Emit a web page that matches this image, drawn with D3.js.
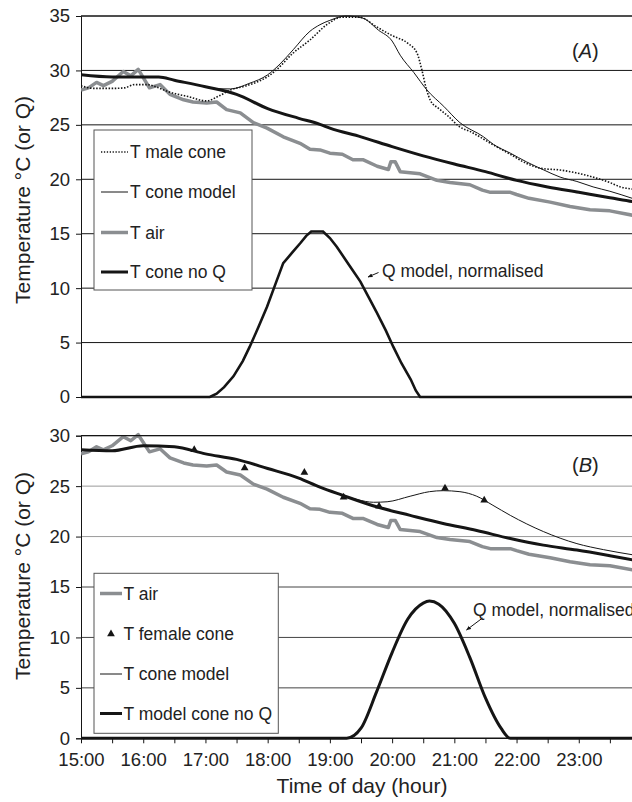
<!DOCTYPE html>
<html>
<head>
<meta charset="utf-8">
<script src="https://cdn.jsdelivr.net/npm/d3@7"></script>
<style>
  body { margin: 0; background: #fff; }
  svg text { font-family: "Liberation Sans", Arial, sans-serif; fill: #222; }
</style>
</head>
<body>
<svg id="chart" width="632" height="802"></svg>
<script>
// x axis: hours of the day
const halfHourTicks = [15, 15.5, 16, 16.5, 17, 17.5, 18, 18.5, 19, 19.5, 20, 20.5, 21, 21.5, 22, 22.5, 23, 23.5];
const hourLabels = ["15:00", "16:00", "17:00", "18:00", "19:00", "20:00", "21:00", "22:00", "23:00"];

// T air (same record in both panels)
const tAir = [
    [15.00, 28.2], [15.12, 28.4], [15.25, 28.9], [15.36, 28.6], [15.50, 29.0], [15.68, 29.9],
    [15.80, 29.5], [15.92, 30.1], [16.10, 28.4], [16.27, 28.7], [16.43, 27.8], [16.65, 27.3],
    [16.80, 27.1], [17.02, 27.0], [17.18, 27.1], [17.34, 26.4], [17.56, 26.1], [17.77, 25.2],
    [17.99, 24.7], [18.25, 23.9], [18.52, 23.3], [18.68, 22.75], [18.84, 22.7], [19.00, 22.4],
    [19.20, 22.3], [19.37, 21.8], [19.53, 21.8], [19.76, 21.2], [19.94, 20.9], [19.98, 21.6],
    [20.05, 21.6], [20.13, 20.7], [20.45, 20.5], [20.72, 19.9], [20.93, 19.7], [21.25, 19.5],
    [21.45, 19.0], [21.58, 18.8], [21.90, 18.8], [22.00, 18.6], [22.20, 18.25], [22.54, 17.9],
    [22.86, 17.5], [23.18, 17.2], [23.50, 17.1], [23.86, 16.7]
];

// panel A
const tConeNoQA = [
    [15.0, 29.6], [15.5, 29.4], [16.0, 29.4], [16.25, 29.4], [16.5, 29.1], [17.0, 28.5],
    [17.5, 27.8], [18.0, 26.5], [18.5, 25.6], [18.84, 25.05], [19.0, 24.7], [19.5, 23.9],
    [20.0, 23.0], [20.5, 22.15], [21.0, 21.4], [21.5, 20.7], [22.0, 19.9], [22.5, 19.3],
    [23.0, 18.8], [23.5, 18.3], [23.86, 17.95], [24.0, 17.8]
];
const tConeModelA = [
    [15.0, 29.6], [15.5, 29.4], [16.0, 29.4], [16.25, 29.4], [16.5, 29.1], [17.0, 28.5],
    [17.1, 28.35], [17.4, 28.3], [17.7, 28.8], [18.0, 29.6], [18.2, 30.6], [18.41, 31.9],
    [18.68, 33.6], [18.84, 34.2], [19.0, 34.6], [19.26, 35.0], [19.53, 34.8], [19.78, 33.7],
    [20.0, 32.7], [20.13, 31.4], [20.35, 29.8], [20.56, 28.2], [20.83, 26.7], [21.09, 25.2],
    [21.47, 23.9], [21.63, 23.2], [21.9, 22.4], [22.16, 21.6], [22.44, 20.85], [22.7, 20.2],
    [22.97, 19.8], [23.23, 19.3], [23.5, 18.9], [23.86, 18.25]
];
const tMaleCone = [
    [15.0, 28.6], [15.2, 28.35], [15.5, 28.35], [15.7, 28.4], [15.86, 28.7], [16.06, 28.7],
    [16.2, 28.5], [16.4, 28.05], [16.72, 27.6], [17.02, 27.2], [17.2, 27.6], [17.4, 28.2],
    [17.66, 28.6], [17.99, 29.4], [18.13, 30.0], [18.41, 31.6], [18.68, 32.8], [18.95, 34.2],
    [19.2, 34.9], [19.47, 34.9], [19.75, 34.0], [20.0, 33.2], [20.25, 32.5], [20.4, 31.6],
    [20.48, 30.0], [20.55, 28.3], [20.62, 27.2], [20.75, 26.5], [20.9, 25.8], [21.09, 24.8],
    [21.25, 24.4], [21.63, 23.15], [21.9, 22.3], [22.16, 21.45], [22.4, 21.0], [22.7, 20.85],
    [22.95, 20.6], [23.23, 20.2], [23.5, 19.7], [23.67, 19.3], [23.86, 19.1]
];
const qModelA = [
    [15.0, 0], [17.07, 0], [17.18, 0.3], [17.3, 0.9], [17.45, 1.9], [17.6, 3.3], [17.71, 4.6],
    [17.85, 6.4], [17.99, 8.3], [18.12, 10.3], [18.25, 12.3], [18.4, 13.3], [18.52, 14.1],
    [18.62, 14.8], [18.7, 15.2], [18.89, 15.2], [19.0, 14.6], [19.11, 13.8], [19.3, 12.2],
    [19.49, 10.6], [19.62, 9.2], [19.75, 7.8], [19.9, 6.1], [20.02, 4.6], [20.15, 3.1],
    [20.3, 1.6], [20.38, 0.6], [20.45, 0], [24.0, 0]
];

// panel B
const tConeNoQB = [
    [15.0, 28.6], [15.5, 28.5], [16.0, 29.0], [16.5, 28.9], [17.0, 28.2], [17.5, 27.65],
    [18.0, 26.75], [18.5, 25.8], [18.84, 24.9], [19.2, 24.1], [19.75, 22.95], [20.29, 22.1],
    [20.82, 21.3], [21.36, 20.6], [21.9, 19.8], [22.43, 19.15], [22.97, 18.66], [23.5, 18.1],
    [23.86, 17.7]
];
const tConeModelB = [
    [15.0, 28.6], [15.5, 28.5], [16.0, 29.0], [16.5, 28.9], [17.0, 28.2], [17.5, 27.65],
    [18.0, 26.75], [18.5, 25.8], [18.84, 24.9], [19.2, 24.1], [19.45, 23.65], [19.7, 23.4],
    [19.92, 23.45], [20.29, 24.0], [20.6, 24.45], [20.82, 24.55], [21.09, 24.45], [21.36, 24.0],
    [21.62, 23.1], [21.9, 22.1], [22.43, 20.5], [22.97, 19.3], [23.4, 18.7], [23.86, 18.2]
];
const tFemaleCone = [
    [16.82, 28.6], [17.63, 26.8], [18.59, 26.35], [19.22, 23.9], [19.79, 23.0], [20.85, 24.8], [21.48, 23.6]
];
const qModelB = [
    [15.0, 0], [19.27, 0], [19.5, 1.0], [19.75, 4.6], [20.0, 8.5], [20.25, 11.8], [20.5, 13.4],
    [20.6, 13.6], [20.75, 13.3], [21.0, 11.4], [21.25, 8.0], [21.5, 4.0], [21.75, 1.0],
    [21.9, 0], [24.0, 0]
];

const svg = d3.select("#chart");
const tickFont = "18.5px";
const legendFont = "17.5px";
const black = "#151515";
const grey = "#8b8e91";

const xScale = d3.scaleLinear().domain([15, 24]).range([81, 641]);

svg.append("defs").append("clipPath").attr("id", "plotClip")
    .append("rect").attr("x", 81).attr("y", 0).attr("width", 551).attr("height", 802);

svg.select("defs").append("marker")
    .attr("id", "arrow")
    .attr("viewBox", "0 0 10 10")
    .attr("refX", 9).attr("refY", 5)
    .attr("markerWidth", 5).attr("markerHeight", 5)
    .attr("orient", "auto")
    .append("path").attr("d", "M0,1 L10,5 L0,9 z").attr("fill", black);

const lineGen = (yScale, curve) => d3.line()
    .x(d => xScale(d[0]))
    .y(d => yScale(d[1]))
    .curve(curve);

const drawPanel = (cfg) => {
    const yScale = d3.scaleLinear().domain([0, cfg.yMax]).range([cfg.bottom, cfg.top]);
    const g = svg.append("g");

    // gridlines
    g.append("g").selectAll("line")
        .data(d3.range(5, cfg.yMax + 1, 5))
        .join("line")
        .attr("x1", 81).attr("x2", 632)
        .attr("y1", d => yScale(d)).attr("y2", d => yScale(d))
        .attr("stroke", d => cfg.gridColor(d))
        .attr("stroke-width", 1);

    // y axis
    const yAxis = g.append("g")
        .attr("transform", "translate(81,0)")
        .call(d3.axisLeft(yScale).tickValues(d3.range(0, cfg.yMax + 1, 5)).tickSize(5).tickPadding(6));
    yAxis.select(".domain").attr("stroke", black);
    yAxis.selectAll(".tick line").attr("stroke", black);
    yAxis.selectAll("text").style("font-size", tickFont).attr("fill", "#222");

    const plot = g.append("g").attr("clip-path", "url(#plotClip)");

    plot.append("path").datum(cfg.q)
        .attr("d", lineGen(yScale, cfg.qCurve))
        .attr("fill", "none").attr("stroke", black).attr("stroke-width", cfg.qWidth);

    plot.append("path").datum(tAir)
        .attr("d", lineGen(yScale, d3.curveLinear))
        .attr("fill", "none").attr("stroke", grey).attr("stroke-width", 3.5)
        .attr("stroke-linejoin", "round");

    plot.append("path").datum(cfg.noQ)
        .attr("d", lineGen(yScale, d3.curveMonotoneX))
        .attr("fill", "none").attr("stroke", black).attr("stroke-width", 3);

    plot.append("path").datum(cfg.model)
        .attr("d", lineGen(yScale, d3.curveMonotoneX))
        .attr("fill", "none").attr("stroke", black).attr("stroke-width", 1);

    if (cfg.male) {
        plot.append("path").datum(cfg.male)
            .attr("d", lineGen(yScale, d3.curveMonotoneX))
            .attr("fill", "none").attr("stroke", black).attr("stroke-width", 1.6)
            .attr("stroke-dasharray", "1.5,1.6");
    }

    if (cfg.female) {
        plot.selectAll(".female")
            .data(cfg.female)
            .join("path")
            .attr("class", "female")
            .attr("transform", d => `translate(${xScale(d[0])},${yScale(d[1])})`)
            .attr("d", d3.symbol(d3.symbolTriangle, 26))
            .attr("fill", black);
    }

    // bottom axis line at 0
    g.append("line")
        .attr("x1", 81).attr("x2", 632)
        .attr("y1", cfg.bottom).attr("y2", cfg.bottom)
        .attr("stroke", black).attr("stroke-width", 1.5);
    // top border
    g.append("line")
        .attr("x1", 81).attr("x2", 632)
        .attr("y1", cfg.top).attr("y2", cfg.top)
        .attr("stroke", black).attr("stroke-width", 1.2);

    // y title
    svg.append("text")
        .attr("transform", `translate(30,${cfg.titleY}) rotate(-90)`)
        .attr("text-anchor", "middle")
        .style("font-size", "21px")
        .text("Temperature °C (or Q)");

    // panel label
    const lab = svg.append("text")
        .attr("x", 572).attr("y", cfg.top + cfg.labelDy)
        .style("font-size", "20px");
    lab.append("tspan").text("(");
    lab.append("tspan").style("font-style", "italic").text(cfg.label);
    lab.append("tspan").text(")");

    // Q annotation
    svg.append("line")
        .attr("x1", cfg.arrow[0]).attr("y1", cfg.arrow[1])
        .attr("x2", cfg.arrow[2]).attr("y2", cfg.arrow[3])
        .attr("stroke", black).attr("stroke-width", 1)
        .attr("marker-end", "url(#arrow)");
    svg.append("text")
        .attr("x", cfg.noteX).attr("y", cfg.noteY)
        .style("font-size", legendFont)
        .text("Q model, normalised");

    // legend
    const lg = svg.append("g");
    lg.append("rect")
        .attr("x", cfg.legend.x).attr("y", cfg.legend.y)
        .attr("width", cfg.legend.w).attr("height", cfg.legend.h)
        .attr("fill", "#fff").attr("stroke", "#555").attr("stroke-width", 1);
    const rows = lg.selectAll(".row")
        .data(cfg.legend.items)
        .join("g")
        .attr("class", "row")
        .attr("transform", (d, i) => `translate(0,${cfg.legend.rowY[i]})`);
    rows.filter(d => d.kind !== "tri").append("line")
        .attr("x1", cfg.legend.sx0).attr("x2", cfg.legend.sx1)
        .attr("stroke", d => d.color)
        .attr("stroke-width", d => d.width)
        .attr("stroke-dasharray", d => d.dash || null);
    rows.filter(d => d.kind === "tri").append("path")
        .attr("transform", `translate(${cfg.legend.triX},0)`)
        .attr("d", d3.symbol(d3.symbolTriangle, 26))
        .attr("fill", black);
    rows.append("text")
        .attr("x", cfg.legend.tx)
        .attr("dy", "0.36em")
        .style("font-size", legendFont)
        .text(d => d.label);

    return yScale;
};

drawPanel({
    top: 16, bottom: 397, yMax: 35,
    gridColor: () => black,
    q: qModelA, qCurve: d3.curveLinear, qWidth: 2.6,
    noQ: tConeNoQA, model: tConeModelA, male: tMaleCone,
    titleY: 200, label: "A", labelDy: 42,
    arrow: [378.5, 272.5, 368, 277], noteX: 382, noteY: 277,
    legend: {
        x: 94, y: 130, w: 158, h: 160, sx0: 101, sx1: 128, tx: 130,
        rowY: [152, 192, 232.5, 272],
        items: [
            { label: "T male cone", color: black, width: 1.4, dash: "1.3,1.6" },
            { label: "T cone model", color: black, width: 1 },
            { label: "T air", color: grey, width: 3.5 },
            { label: "T cone no Q", color: black, width: 3 }
        ]
    }
});

const yB = drawPanel({
    top: 435.7, bottom: 738.3, yMax: 30,
    gridColor: d => d >= 20 ? "#9a9a9a" : "#444",
    q: qModelB, qCurve: d3.curveMonotoneX, qWidth: 3,
    noQ: tConeNoQB, model: tConeModelB, female: tFemaleCone,
    titleY: 576, label: "B", labelDy: 36,
    arrow: [482.5, 618, 466.5, 630], noteX: 473, noteY: 616,
    legend: {
        x: 94, y: 573.3, w: 184.3, h: 160, sx0: 100, sx1: 122, tx: 123.5, triX: 111,
        rowY: [593.5, 634, 674, 713.5],
        items: [
            { label: "T air", color: grey, width: 3.5 },
            { label: "T female cone", kind: "tri" },
            { label: "T cone model", color: black, width: 1 },
            { label: "T model cone no Q", color: black, width: 3 }
        ]
    }
});

// x axis (bottom panel only)
const xAxis = svg.append("g")
    .attr("transform", "translate(0,738.3)")
    .call(d3.axisBottom(xScale)
        .tickValues(halfHourTicks)
        .tickSize(5)
        .tickPadding(9.5)
        .tickFormat(d => Number.isInteger(d) ? hourLabels[d - 15] : ""));
xAxis.select(".domain").remove();
xAxis.selectAll(".tick line").attr("stroke", black);
xAxis.selectAll("text").style("font-size", tickFont).attr("fill", "#222");

svg.append("text")
    .attr("x", 362).attr("y", 793)
    .attr("text-anchor", "middle")
    .style("font-size", "21px")
    .text("Time of day (hour)");
</script>
</body>
</html>
